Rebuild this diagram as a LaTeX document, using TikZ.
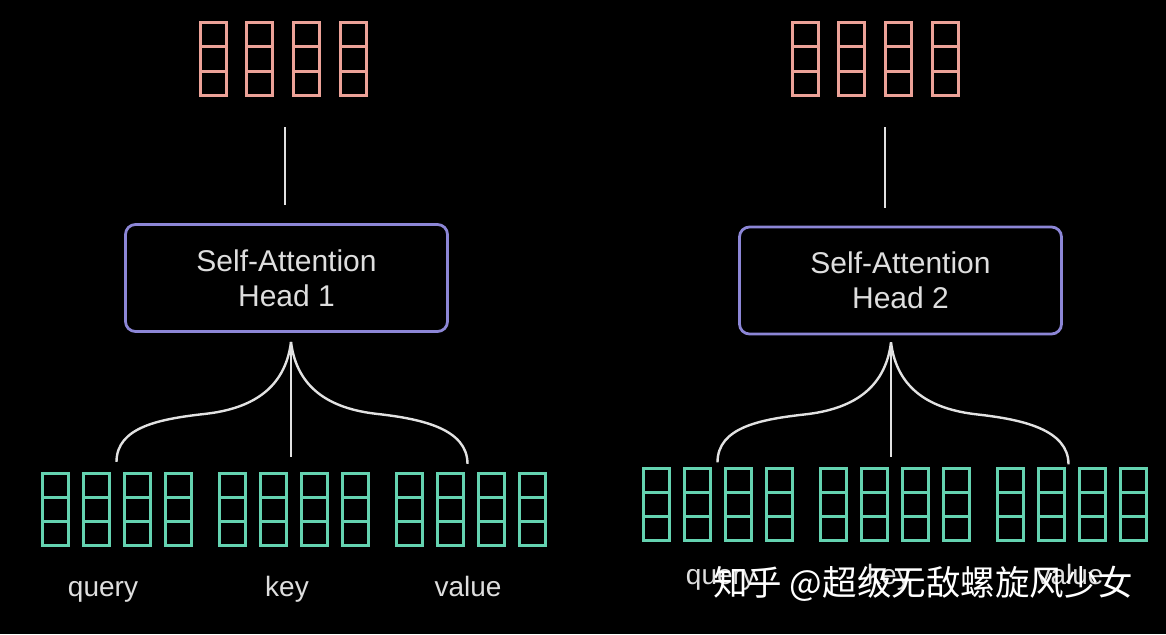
\documentclass[tikz,border=0pt]{standalone}
\usepackage{fontspec}
\setmainfont{Liberation Sans}
\newfontfamily\cjk{Noto Sans CJK SC}
\usetikzlibrary{positioning,fit,calc}

\definecolor{outred}{RGB}{236,162,152}
\definecolor{inteal}{RGB}{100,210,176}
\definecolor{headblue}{RGB}{140,134,214}
\definecolor{wirewhite}{RGB}{226,226,226}
\definecolor{labelgray}{RGB}{222,222,222}

\tikzset{
  head/.style={draw=headblue, line width=2.8pt, rounded corners=10pt, minimum width=322pt, minimum height=107pt, text=labelgray, align=center, font=\fontsize{30}{35}\selectfont},
  wire/.style={draw=wirewhite, line width=2.4pt},
  word/.style={text=labelgray, font=\fontsize{28}{34}\selectfont},
  grp/.style={inner sep=0pt}
}

% one vector of three cells: left x, top y, colour
\newcommand{\cells}[3]{%
  \draw[#3, line width=3pt] (#1,#2) rectangle ++(26,72) (#1,#2+24) -- ++(26,0) (#1,#2+48) -- ++(26,0);
}

\begin{document}
\begin{tikzpicture}[x=1pt,y=-1pt]
        \useasboundingbox (0,0) rectangle (1166,634);
        \fill[black] (0,0) rectangle (1166,634);

        % output vectors
        \foreach \c in {0,...,3} {
          \cells{200+\c*46.8}{23}{outred}
          \cells{792+\c*46.8}{23}{outred}
        }
        \node[grp, fit={(200,23) (366,95)}] (out1) {};
        \node[grp, fit={(792,23) (958,95)}] (out2) {};

        % attention heads
        \node[head] (head1) at (286.5,278) {Self-Attention\\Head 1};
        \node[head] (head2) at (900.5,280.5) {Self-Attention\\Head 2};
        \draw[wire, shorten <=18pt, shorten >=32pt] ([xshift=-1.5pt]head1.north) -- ([xshift=-1.5pt]head1.north |- out1.south);
        \draw[wire, shorten <=18pt, shorten >=32pt] ([xshift=-15.5pt]head2.north) -- ([xshift=-15.5pt]head2.north |- out2.south);

        % input vectors
        \foreach \g in {0,1,2} \foreach \c in {0,...,3} {
          \cells{42+\g*177+\c*41}{473}{inteal}
          \cells{643+\g*177+\c*41}{468}{inteal}
        }
        \node[grp, fit={(42,473) (191,545)}] (q1) {};
        \node[grp, fit={(219,473) (368,545)}] (k1) {};
        \node[grp, fit={(396,473) (545,545)}] (v1) {};
        \node[grp, fit={(643,468) (792,540)}] (q2) {};
        \node[grp, fit={(820,468) (969,540)}] (k2) {};
        \node[grp, fit={(997,468) (1146,540)}] (v2) {};

        % braces from the inputs to the heads
        \coordinate (tip1) at ($(head1.south)+(4.5,9)$);
        \coordinate (tip2) at ($(head2.south)+(-9.5,7)$);
        \foreach \i in {1,2} {
          \coordinate (bq\i) at ($(tip\i)+(-86,72)$);
          \coordinate (bv\i) at ($(tip\i)+(86,72)$);
          \coordinate (eq\i) at ($(q\i.north |- tip\i)+(0,120)$);
          \coordinate (ek\i) at ($(tip\i)+(0,115)$);
          \coordinate (ev\i) at ($(v\i.north |- tip\i)+(-3,122)$);
          \draw[wire] (tip\i) -- (ek\i);
          \draw[wire] (tip\i) .. controls +(-6,48) and +(45,-5) .. (bq\i) .. controls +(-45,5) and +(0,-35) .. (eq\i);
          \draw[wire] (tip\i) .. controls +(6,48) and +(-45,-5) .. (bv\i) .. controls +(45,5) and +(0,-35) .. (ev\i);
        }

        % labels
        \node[word, anchor=base] (lq1) at (103,596) {query};
        \node[word, anchor=base] (lk1) at (287,596) {key};
        \node[word, anchor=base] (lv1) at (468,596) {value};
        \node[word, anchor=base] (lq2) at (721,584) {query};
        \node[word, anchor=base] (lk2) at (889,584) {key};
        \node[word, anchor=base] (lv2) at (1070,584) {value};
        \node[anchor=base west, inner sep=0pt, text=white, font=\cjk\fontsize{34.5}{40}\selectfont] (mark) at (713,595) {知乎 @超级无敌螺旋风少女};
      \end{tikzpicture}
\end{document}
